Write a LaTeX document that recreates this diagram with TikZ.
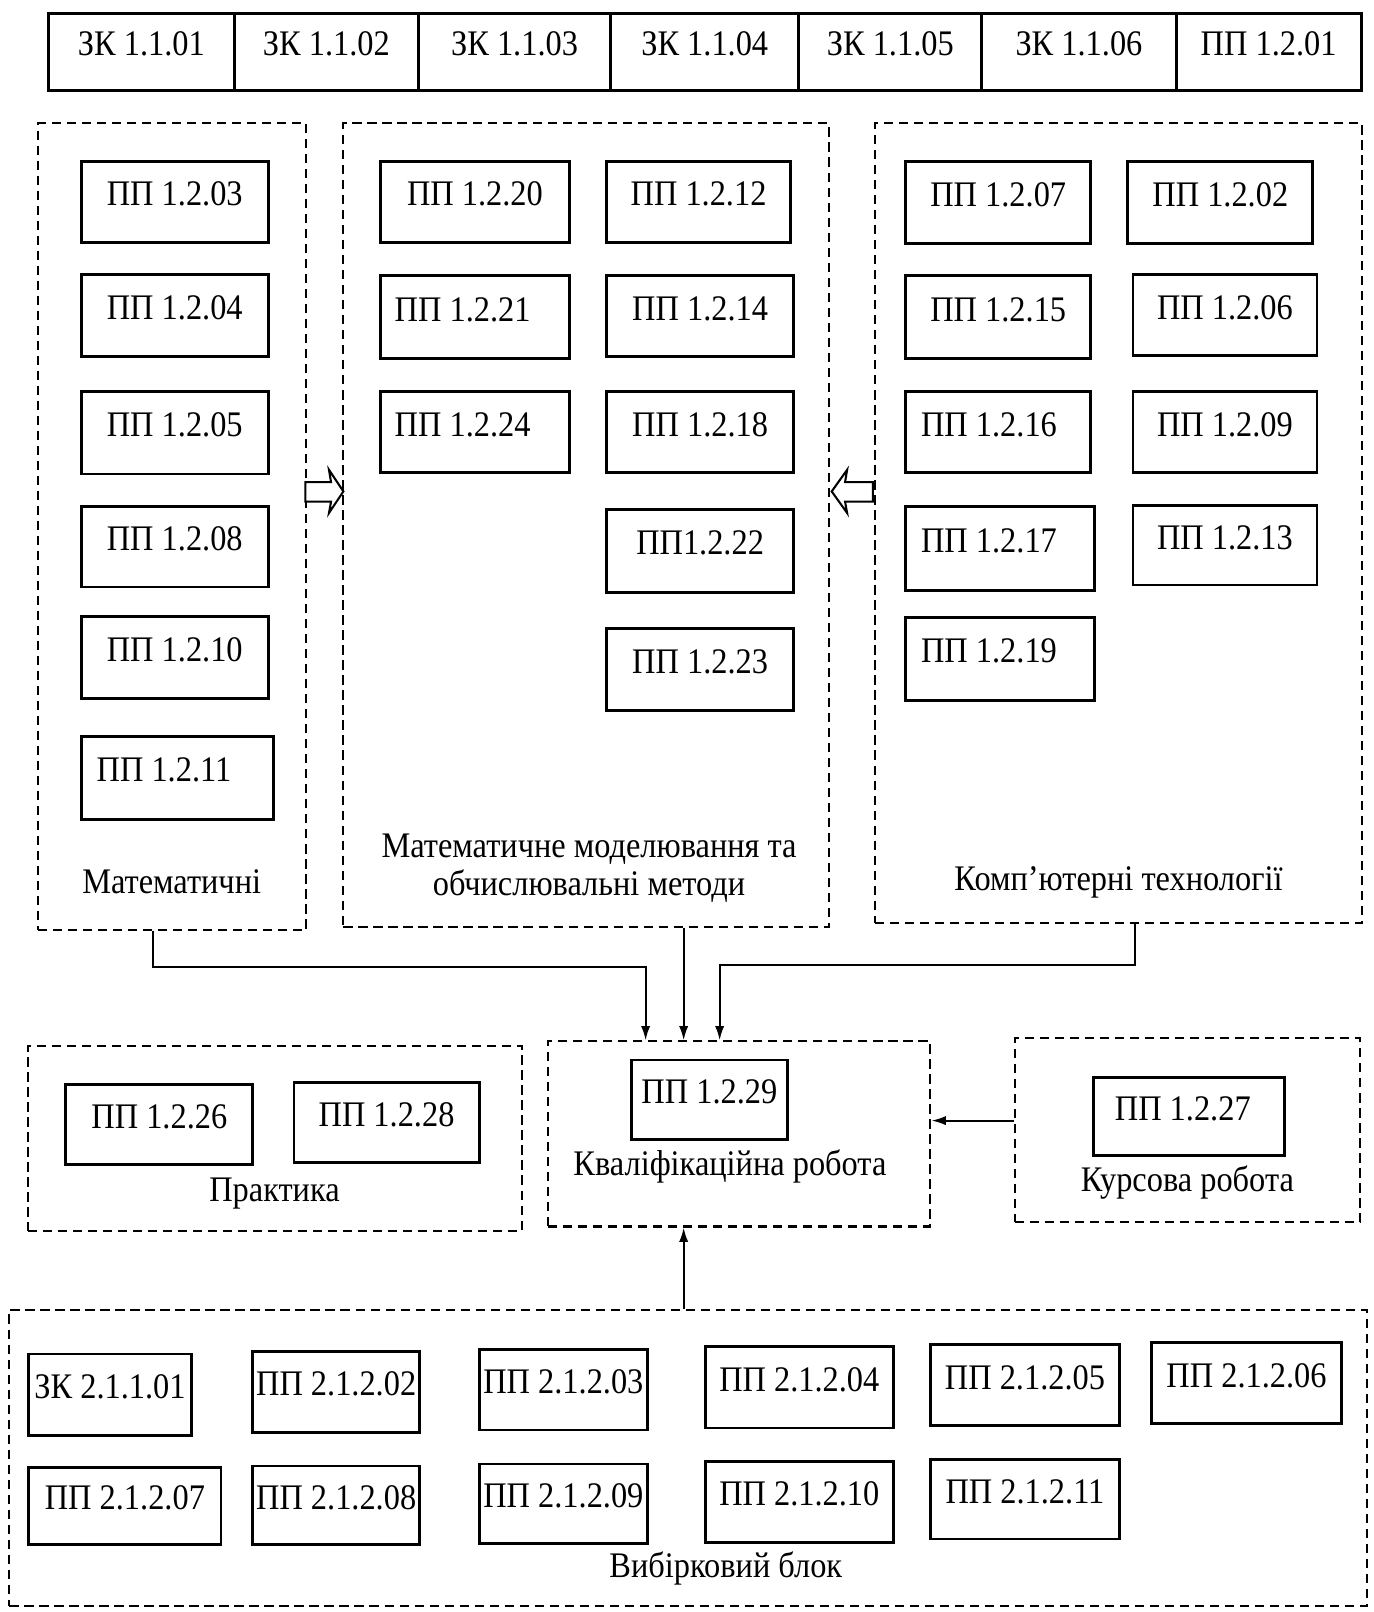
\documentclass[tikz,border=0pt]{standalone}
\usepackage{fontspec}
\setmainfont{Liberation Serif}[FakeStretch=0.9]
\usetikzlibrary{calc,arrows.meta}
\tikzset{
 box/.style={draw, line width=1.4pt, inner sep=0pt},
 grpst/.style={draw, line width=1pt, dash pattern=on 4.5pt off 2.8pt, inner sep=0pt},
 txt/.style={font=\fontsize{17.5}{21}\selectfont, inner sep=0pt, text height=0.68em, text depth=0pt},
 arr/.style={line width=1pt, -{Latex[length=7pt,width=4.5pt]}},
 hollow/.style={draw, line width=1pt, fill=white, line join=miter},
}
\newcommand\bx[7][0]{%
 \node[box, minimum width={(#5-#3)*0.5pt}, minimum height={(#6-#4)*0.5pt}] (#2) at ({(#3+#5)/2},{(#4+#6)/2}) {};
 \node[txt] (#2t) at ({(#3+#5)/2+#1},{(#4+#6)/2-3}) {#7};}
\newcommand\grpbox[5]{%
 \node[grpst, minimum width={(#4-#2)*0.5pt}, minimum height={(#5-#3)*0.5pt}] (#1) at ({(#2+#4)/2},{(#3+#5)/2}) {};}
\begin{document}
\begin{tikzpicture}[x=0.5pt,y=-0.5pt]
\useasboundingbox[fill=white] (0,0) rectangle (1336,1568);
% top row
\bx{z1}{47}{13}{228}{88}{ЗК 1.1.01}
\bx{z2}{228}{13}{407}{88}{ЗК 1.1.02}
\bx{z3}{407}{13}{594}{88}{ЗК 1.1.03}
\bx{z4}{594}{13}{777}{88}{ЗК 1.1.04}
\bx{z5}{777}{13}{955}{88}{ЗК 1.1.05}
\bx{z6}{955}{13}{1144}{88}{ЗК 1.1.06}
\bx{z7}{1144}{13}{1324}{88}{ПП 1.2.01}
% groups
\grpbox{g1}{37}{120}{298}{905}
\grpbox{g2}{334}{120}{806}{902}
\grpbox{g3}{851}{120}{1325}{898}
% group 1
\bx{a03}{79}{157}{261}{236}{ПП 1.2.03}
\bx{a04}{79}{267}{261}{347}{ПП 1.2.04}
\bx{a05}{79}{381}{261}{461}{ПП 1.2.05}
\bx{a08}{79}{493}{261}{571}{ПП 1.2.08}
\bx{a10}{79}{600}{261}{679}{ПП 1.2.10}
\bx[-13]{a11}{79}{716}{266}{797}{ПП 1.2.11}
\node[txt] (g1l) at (167,862) {Математичні};
% group 2
\bx{b20}{370}{157}{554}{236}{ПП 1.2.20}
\bx[-12]{b21}{370}{268}{554}{349}{ПП 1.2.21}
\bx[-12]{b24}{370}{381}{554}{460}{ПП 1.2.24}
\bx{b12}{590}{157}{769}{236}{ПП 1.2.12}
\bx{b14}{590}{268}{772}{347}{ПП 1.2.14}
\bx{b18}{590}{381}{772}{460}{ПП 1.2.18}
\bx{b22}{590}{496}{772}{576}{ПП1.2.22}
\bx{b23}{590}{611}{772}{691}{ПП 1.2.23}
\node[txt] (g2l1) at (573,827) {Математичне моделювання та};
\node[txt] (g2l2) at (573,864) {обчислювальні методи};
% group 3
\bx{c07}{881}{157}{1061}{237}{ПП 1.2.07}
\bx{c15}{881}{268}{1061}{349}{ПП 1.2.15}
\bx[-9]{c16}{881}{381}{1061}{460}{ПП 1.2.16}
\bx[-11]{c17}{881}{493}{1065}{574}{ПП 1.2.17}
\bx[-11]{c19}{881}{601}{1065}{681}{ПП 1.2.19}
\bx{c02}{1097}{157}{1277}{237}{ПП 1.2.02}
\bx{c06}{1102}{267}{1281}{346}{ПП 1.2.06}
\bx{c09}{1102}{381}{1281}{460}{ПП 1.2.09}
\bx{c13}{1102}{492}{1281}{569}{ПП 1.2.13}
\node[txt] (g3l) at (1088,859) {Комп’ютерні технології};
% hollow arrows
\draw[hollow] (297,469) -- (322,469) -- (320,457) -- (334,478) -- (320,499) -- (322,488) -- (297,488) -- cycle;
\draw[hollow] (849,469) -- (822,469) -- (824,457) -- (809,478) -- (824,499) -- (822,488) -- (849,488) -- cycle;
% middle row
\grpbox{q}{533}{1013}{905}{1193}
\bx{q29}{614}{1031}{766}{1108}{ПП 1.2.29}
\node[txt] (ql) at (710,1137) {Кваліфікаційна робота};
\grpbox{p}{27}{1017}{508}{1197}
\bx{p26}{64}{1055}{246}{1133}{ПП 1.2.26}
\bx{p28}{286}{1053}{466}{1131}{ПП 1.2.28}
\node[txt] (pl) at (267,1162) {Практика};
\grpbox{k}{987}{1010}{1323}{1189}
\bx[-6]{k27}{1064}{1048}{1249}{1124}{ПП 1.2.27}
\node[txt] (kl) at (1155,1152) {Курсова робота};
% elective block
\grpbox{v}{9}{1274}{1330}{1562}
\bx{v01}{28}{1317}{186}{1396}{ЗК 2.1.1.01}
\bx{v02}{246}{1315}{408}{1393}{ПП 2.1.2.02}
\bx{v03}{466}{1313}{630}{1391}{ПП 2.1.2.03}
\bx{v04}{686}{1310}{869}{1389}{ПП 2.1.2.04}
\bx{v05}{905}{1308}{1089}{1387}{ПП 2.1.2.05}
\bx{v06}{1120}{1306}{1305}{1385}{ПП 2.1.2.06}
\bx{v07}{28}{1427}{215}{1502}{ПП 2.1.2.07}
\bx{v08}{246}{1426}{408}{1502}{ПП 2.1.2.08}
\bx{v09}{466}{1424}{630}{1501}{ПП 2.1.2.09}
\bx{v10}{686}{1422}{869}{1500}{ПП 2.1.2.10}
\bx{v11}{905}{1420}{1089}{1497}{ПП 2.1.2.11}
\node[txt] (vl) at (706,1528) {Вибірковий блок};
% connectors
\draw[arr] ($(g1.south)+(-18.5,0)$) -- ++(0,35) -| ($(q.north)+(-91,0)$);
\draw[arr] ($(g2.south)+(95,0)$) -- ($(q.north)+(-54,0)$);
\draw[arr] ($(g3.south)+(16,0)$) -- ++(0,40) -| ($(q.north)+(-19,0)$);
\draw[arr] ($(k.west)+(0,-9.5)$) -- ($(q.east)+(0,-13)$);
\draw[arr] ($(v.north)+(-4.5,0)$) -- ($(q.south)+(-54,0)$);
\end{tikzpicture}
\end{document}
